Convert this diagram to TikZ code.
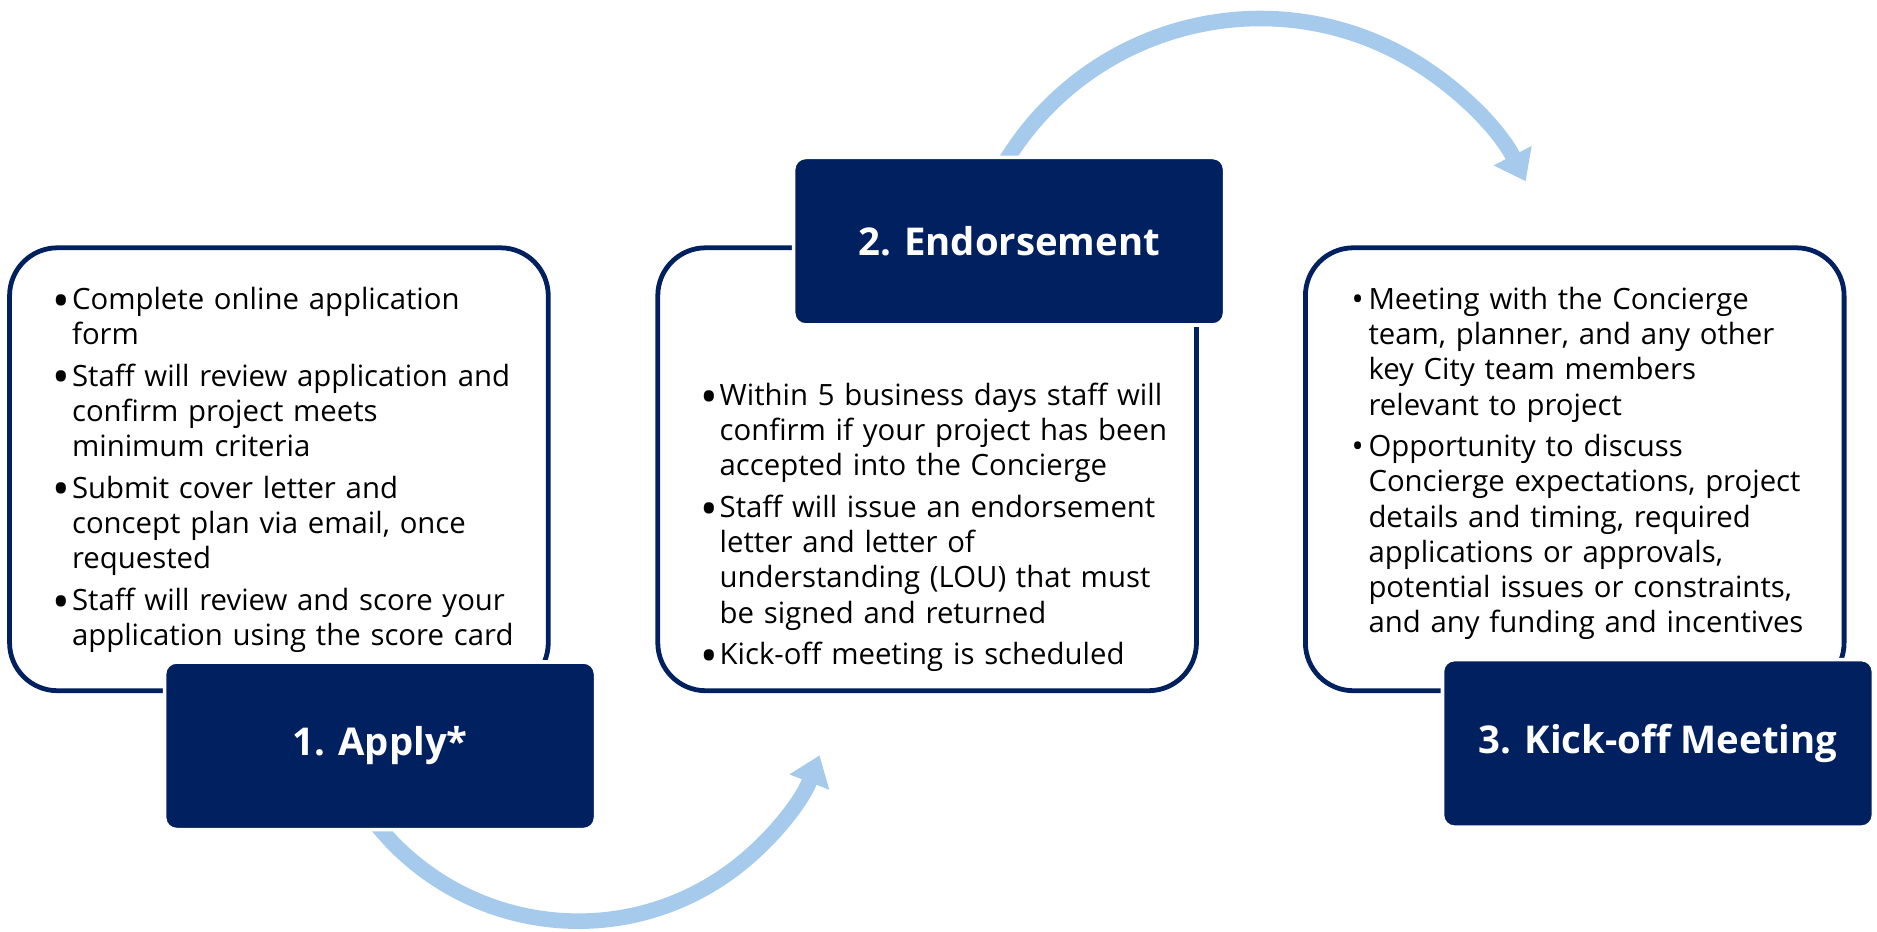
\documentclass[tikz,border=0pt]{standalone}
\usepackage{fontspec}
\setmainfont{Open Sans}
\usetikzlibrary{arrows.meta,backgrounds}
\definecolor{navy}{HTML}{002060}
\definecolor{skyblue}{HTML}{A6CAEC}
\newcommand{\bulmark}{\hspace{-2pt}\raisebox{-6.5pt}{\scalebox{1.6}{\textbullet}}}
\newcommand{\bul}[1]{\hangindent=14pt\hangafter=1\noindent\makebox[14pt][l]{\strut\bulmark}#1\par}
\newcommand{\bulgap}{\vskip5.4pt}
\tikzset{
    panel/.style={draw=navy, line width=4pt, fill=white, rounded corners=40pt, minimum width=450pt, minimum height=370pt},
    stepbox/.style={draw=white, line width=3pt, fill=navy, rounded corners=10pt, minimum width=360pt, minimum height=140pt, text=white, font=\fontsize{32}{38}\selectfont\bfseries},
    bullets/.style={anchor=north west, inner sep=0pt, text width=440pt, font=\fontsize{24.5}{29.4}\selectfont},
    flow/.style={skyblue, line width=13pt, -{Triangle[width=34pt,length=24pt]}}
}
\begin{document}
\begin{tikzpicture}[x=1pt,y=1pt]
    \useasboundingbox (0,0) rectangle (1568,-778);
    \node[panel] (box1) at (233,-392) {};
    \node[panel] (box2) at (774.5,-392) {};
    \node[panel] (box3) at (1315.5,-392) {};
    \node[bullets] (list1) at (46,-237.6) {%
        \bul{Complete online application\newline form}\bulgap
        \bul{Staff will review application and\newline confirm project meets\newline minimum criteria}\bulgap
        \bul{Submit cover letter and\newline concept plan via email, once\newline requested}\bulgap
        \bul{Staff will review and score your\newline application using the score card}};
    \node[bullets] (list2) at (587,-318) {%
        \bul{Within 5 business days staff will\newline confirm if your project has been\newline accepted into the Concierge}\bulgap
        \bul{Staff will issue an endorsement\newline letter and letter of\newline understanding (LOU) that must\newline be signed and returned}\bulgap
        \bul{Kick-off meeting is scheduled}};
    \node[bullets] (list3) at (1129,-237.8) {%
        \renewcommand{\bulmark}{\raisebox{-0.7pt}{\scalebox{1.1}{\textbullet}}}%
        \bul{Meeting with the Concierge\newline team, planner, and any other\newline key City team members\newline relevant to project}\bulgap
        \bul{Opportunity to discuss\newline Concierge expectations, project\newline details and timing, required\newline applications or approvals,\newline potential issues or constraints,\newline and any funding and incentives}};
    \node[stepbox] (step1) at (317.5,-623) {1. Apply*};
    \node[stepbox] (step2) at (843,-201.5) {2. Endorsement};
    \node[stepbox] (step3) at (1385,-621) {3. Kick-off Meeting};
    \begin{scope}[on background layer]
        \draw[flow] ([shift={(-7,11)}]step1.south) arc[start angle=-143, end angle=-21, radius=216];
        \draw[flow] ([shift={(-6,-10)}]step2.north) arc[start angle=150, end angle=27, radius=249];
    \end{scope}
\end{tikzpicture}
\end{document}
